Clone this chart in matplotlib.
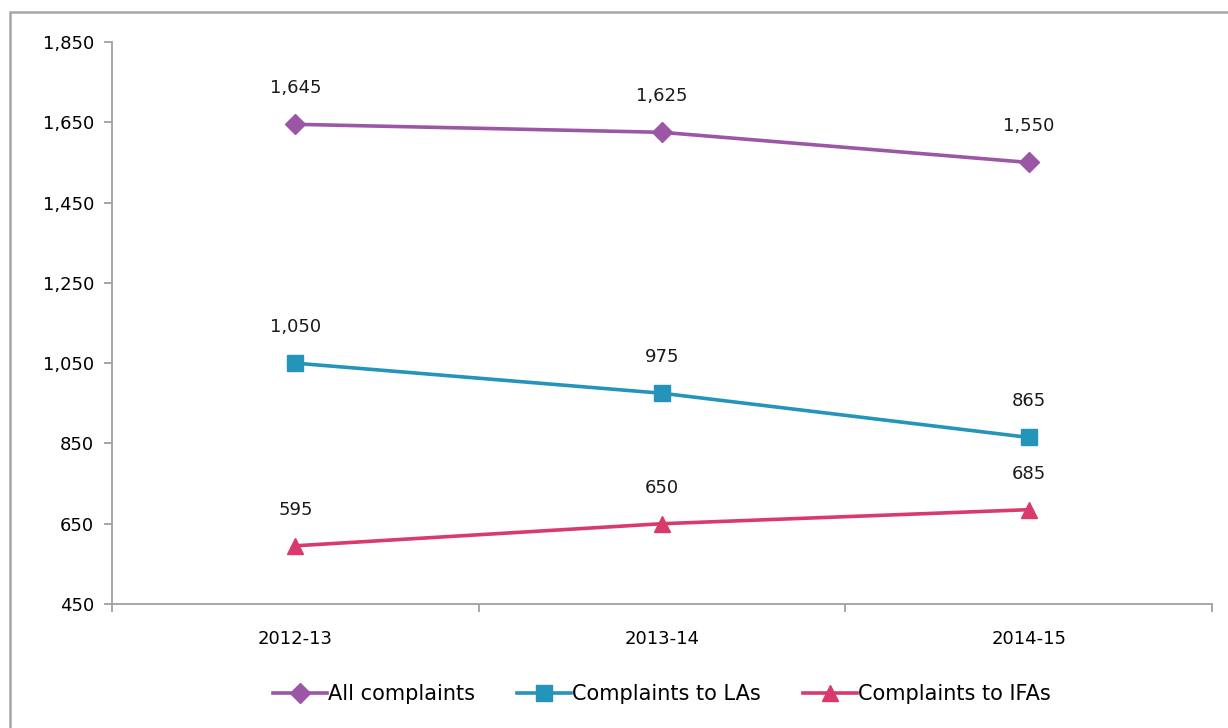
import matplotlib
matplotlib.use('Agg')
import matplotlib.pyplot as plt
from matplotlib.patches import Rectangle

years = ["2012-13", "2013-14", "2014-15"]
all_complaints = [1645, 1625, 1550]
la_complaints = [1050, 975, 865]
ifa_complaints = [595, 650, 685]

series = [
    ("All complaints", all_complaints, "#9B57A6", "D", 10),
    ("Complaints to LAs", la_complaints, "#2594BA", "s", 11),
    ("Complaints to IFAs", ifa_complaints, "#D83B6B", "^", 12),
]

fig = plt.figure(figsize=(12.28, 7.28), dpi=100)
ax = fig.add_axes([112 / 1228, 1 - 604 / 728, 1100 / 1228, 562 / 728])

# outer chart border (cut off by image edges)
fig.patches.append(Rectangle((10 / 1228, -0.2), 1.2, 1.2 - 12 / 728,
                             transform=fig.transFigure, fill=False,
                             edgecolor="#A6A6A6", linewidth=1.8, clip_on=False))

x = list(range(len(years)))
for name, vals, color, marker, ms in series:
    ax.plot(x, vals, color=color, linewidth=2.6, marker=marker, markersize=ms,
            label=name)
    for xi, v in zip(x, vals):
        ax.annotate(f"{v:,}", (xi, v), xytext=(0, 26), textcoords="offset points",
                    ha="center", va="center", fontsize=13, color="#1a1a1a")

ax.set_xlim(-0.5, 2.5)
ax.set_ylim(450, 1850)
ax.set_yticks(range(450, 1851, 200))
ax.set_yticklabels([f"{v:,}" for v in range(450, 1851, 200)])
ax.set_xticks(x)
ax.set_xticklabels(years)
ax.set_xticks([-0.5, 0.5, 1.5, 2.5], minor=True)
ax.tick_params(axis="x", which="major", length=0, pad=19, labelsize=13)
ax.tick_params(axis="x", which="minor", length=6, color="#A0A0A0", width=1.3)
ax.tick_params(axis="y", length=6, color="#A0A0A0", width=1.3, pad=7, labelsize=13)

for side in ["top", "right"]:
    ax.spines[side].set_visible(False)
for side in ["left", "bottom"]:
    ax.spines[side].set_color("#A0A0A0")
    ax.spines[side].set_linewidth(1.3)

ax.legend(loc="center", bbox_to_anchor=(0.58 - 0.08 + 0.0, (728 - 694 - 124) / 562),
          ncol=3, frameon=False, fontsize=15, handlelength=2.6,
          handletextpad=0.05, columnspacing=2.0, markerscale=1.0)

fig.savefig("out.png", dpi=100)
